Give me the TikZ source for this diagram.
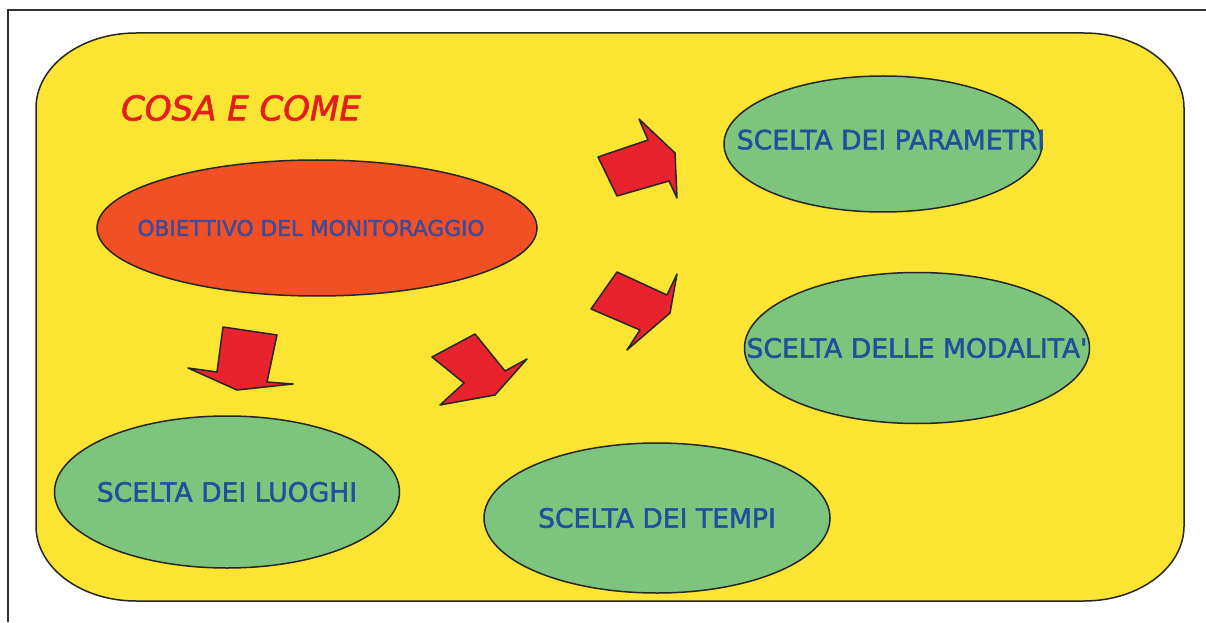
\documentclass[tikz,border=0pt]{standalone}
\usepackage{fontspec}
\setmainfont{DejaVu Sans}[FakeBold=1.8]
\usetikzlibrary{shapes.geometric}
\definecolor{bgyellow}{RGB}{252,228,50}
\definecolor{goalred}{RGB}{240,80,35}
\definecolor{choicegreen}{RGB}{125,197,125}
\definecolor{txtblue}{RGB}{31,80,158}
\definecolor{goalblue}{RGB}{60,75,155}
\definecolor{titlered}{RGB}{228,30,30}
\definecolor{arrred}{RGB}{232,35,45}
% text that does not widen its ellipse (optional shift right/up)
\newcommand{\ovaltext}[3][0pt]{\makebox[0pt]{\hspace*{#1}\raisebox{#2}{#3}}}
\tikzset{
  oval/.style ={ellipse,draw=black!85,line width=1.5pt,fill=choicegreen,inner sep=0pt,
                text=txtblue,font=\fontsize{26.6}{30}\selectfont},
  goal/.style ={oval,fill=goalred,text=goalblue,font=\fontsize{21.7}{26}\selectfont},
  arr/.style  ={draw=black!85,line width=1.5pt,fill=arrred,line join=round}
}
\begin{document}
\begin{tikzpicture}[x=1pt,y=1pt]
\useasboundingbox (0,0) rectangle (1206,622);

% -------- frame and background --------
\draw[black!80,line width=1.2pt] (8,0) -- (8,612) -- (1206,612);
\draw[draw=black!85,line width=1.5pt,fill=bgyellow]
  (136,589) -- (1084,589) arc[start angle=90,end angle=0,x radius=100pt,y radius=75pt]
  -- (1184,96) arc[start angle=0,end angle=-90,x radius=100pt,y radius=75pt]
  -- (136,21) arc[start angle=270,end angle=180,x radius=100pt,y radius=75pt]
  -- (36,514) arc[start angle=180,end angle=90,x radius=100pt,y radius=75pt] -- cycle;

% -------- title --------
\node[text=titlered,font=\fontsize{34}{38}\itshape] (title) at (241,514) {COSA E COME};

% -------- goal and choices --------
\node[goal, minimum width=440pt, minimum height=136pt] (obj) at (317,394) {\ovaltext[-12pt]{0pt}{OBIETTIVO DEL MONITORAGGIO}};
\node[oval, minimum width=318pt, minimum height=136pt] (par) at (883,478) {\ovaltext[16pt]{9pt}{SCELTA DEI PARAMETRI}};
\node[oval, minimum width=345pt, minimum height=151pt] (mod) at (917,274) {\ovaltext{0pt}{SCELTA DELLE MODALITA\textquotesingle}};
\node[oval, minimum width=345pt, minimum height=152pt] (luo) at (227,130) {\ovaltext{0pt}{SCELTA DEI LUOGHI}};
\node[oval, minimum width=346pt, minimum height=150pt] (tem) at (657,104) {\ovaltext{0pt}{SCELTA DEI TEMPI}};

% -------- block arrows --------
\draw[arr] (598,465) -- (648,482) -- (639,503) -- (675,469) -- (677,424) -- (669,441) -- (617,426) -- cycle;
\draw[arr] (617,350) -- (667,327) -- (677,348) -- (670,309) -- (627,272) -- (640,292) -- (591,313) -- cycle;
\draw[arr] (223,295) -- (277,287) -- (267,240) -- (293,238) -- (237,232) -- (188,254) -- (217,250) -- cycle;
\draw[arr] (432,265) -- (475,288) -- (505,251) -- (527,263) -- (495,227) -- (440,217) -- (464,239) -- cycle;

\end{tikzpicture}
\end{document}
